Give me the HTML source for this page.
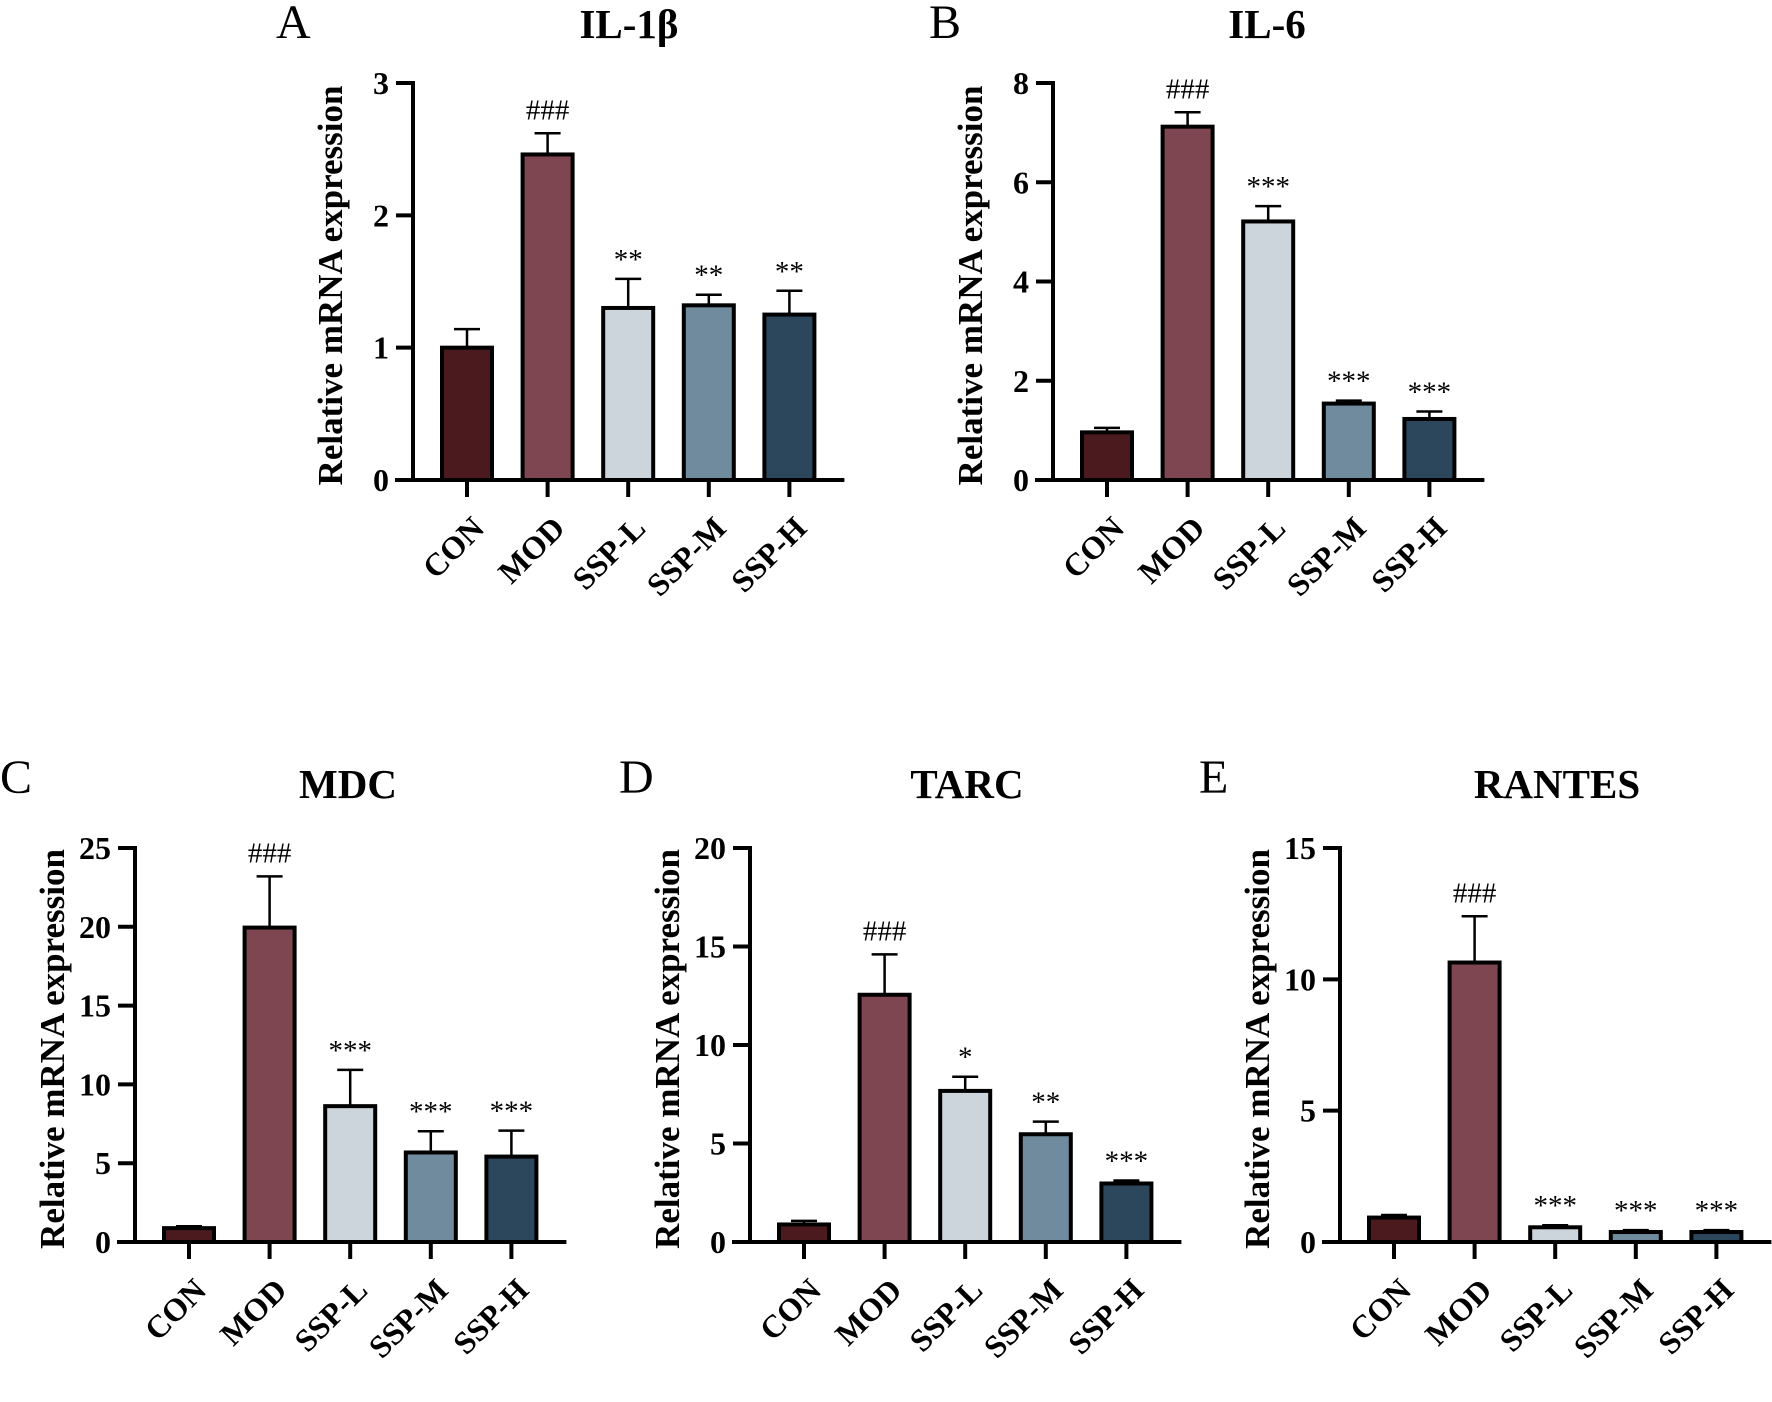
<!DOCTYPE html>
<html><head><meta charset="utf-8"><style>
html,body{margin:0;padding:0;background:#fff;}
svg{display:block;}
text{font-family:"Liberation Serif","DejaVu Serif",serif;fill:#000;}
</style></head><body>
<svg id="fig" width="1772" height="1402" viewBox="0 0 1772 1402" xmlns="http://www.w3.org/2000/svg"></svg>
<script>
const categories = ["CON","MOD","SSP-L","SSP-M","SSP-H"];
const barColors = ["#4b1a1f","#7e4650","#cdd5dc","#6f8b9d","#2c465c"];

const il1bValues = [1.0, 2.46, 1.30, 1.32, 1.25];
const il1bErrors = [0.14, 0.16, 0.22, 0.08, 0.18];
const il1bMarks = ["", "###", "**", "**", "**"];
const il1bTicks = [0,1,2,3];

const il6Values = [0.96, 7.12, 5.21, 1.54, 1.23];
const il6Errors = [0.09, 0.29, 0.31, 0.06, 0.15];
const il6Marks = ["", "###", "***", "***", "***"];
const il6Ticks = [0,2,4,6,8];

const mdcValues = [0.88, 19.95, 8.62, 5.68, 5.42];
const mdcErrors = [0.12, 3.25, 2.3, 1.35, 1.65];
const mdcMarks = ["", "###", "***", "***", "***"];
const mdcTicks = [0,5,10,15,20,25];

const tarcValues = [0.89, 12.55, 7.67, 5.47, 2.97];
const tarcErrors = [0.18, 2.05, 0.72, 0.64, 0.15];
const tarcMarks = ["", "###", "*", "**", "***"];
const tarcTicks = [0,5,10,15,20];

const rantesValues = [0.93, 10.64, 0.56, 0.38, 0.38];
const rantesErrors = [0.1, 1.76, 0.08, 0.07, 0.07];
const rantesMarks = ["", "###", "***", "***", "***"];
const rantesTicks = [0,5,10,15];

const panels = [
  {id:"a", letter:"A", title:"IL-1β", vals:il1bValues, errs:il1bErrors, marks:il1bMarks, ticks:il1bTicks, ax:413, top:83, zero:480, lx:276, ly:38, tx:629, ty:38},
  {id:"b", letter:"B", title:"IL-6", vals:il6Values, errs:il6Errors, marks:il6Marks, ticks:il6Ticks, ax:1053, top:83, zero:480, lx:929, ly:38, tx:1267, ty:38},
  {id:"c", letter:"C", title:"MDC", vals:mdcValues, errs:mdcErrors, marks:mdcMarks, ticks:mdcTicks, ax:135, top:848, zero:1242, lx:0, ly:793, tx:348, ty:798},
  {id:"d", letter:"D", title:"TARC", vals:tarcValues, errs:tarcErrors, marks:tarcMarks, ticks:tarcTicks, ax:750, top:848, zero:1242, lx:619, ly:793, tx:967, ty:798},
  {id:"e", letter:"E", title:"RANTES", vals:rantesValues, errs:rantesErrors, marks:rantesMarks, ticks:rantesTicks, ax:1340, top:848, zero:1242, lx:1199, ly:793, tx:1557, ty:798}
];

const NS = "http://www.w3.org/2000/svg";
const svg = document.getElementById("fig");
function mk(tag, attrs, parent){
  const e = document.createElementNS(NS, tag);
  for (const k in attrs) e.setAttribute(k, attrs[k]);
  parent.appendChild(e);
  return e;
}

panels.forEach(p => {
  const g = mk("g", {}, svg);
  
  
  const maxV = p.ticks[p.ticks.length-1];
  const yScale = v => p.zero - (v / maxV) * (p.zero - p.top);
  const xScale = i => p.ax + 54 + i * 80.6;

  const L = mk("text", {x:p.lx, y:p.ly, "font-size":48}, g);
  L.textContent = p.letter;
  
  

  const T = mk("text", {x:p.tx, y:p.ty, "font-size":41, "font-weight":"bold", "text-anchor":"middle"}, g);
  T.textContent = p.title;
  
  

  const cy = (p.top + p.zero) / 2;
  const yt = mk("text", {x:0, y:0, "font-size":35, "font-weight":"bold", "text-anchor":"middle", transform:`translate(${p.ax-71},${cy+4}) rotate(-90)`}, g);
  yt.textContent = "Relative mRNA expression";
  
  

  p.vals.forEach((v, i) => {
    const cx = xScale(i);
    const yv = yScale(v);
    const ye = yScale(v + p.errs[i]);
    const eb = mk("line", {x1:cx, x2:cx, y1:yv, y2:ye, stroke:"#000", "stroke-width":2.5}, g);
    
    
    const ec = mk("line", {x1:cx-13, x2:cx+13, y1:ye, y2:ye, stroke:"#000", "stroke-width":2.5}, g);
    
    
    const r = mk("rect", {x:cx-25, y:yv, width:50, height:Math.max(p.zero - yv, 0), fill:barColors[i], stroke:"#000", "stroke-width":4}, g);
    
    
    if (p.marks[i]) {
      const isHash = p.marks[i][0] === "#";
      const m = mk("text", {x:cx, y: ye - (isHash ? 14 : 10), "font-size":29, "text-anchor":"middle"}, g);
      m.textContent = p.marks[i];
      
      
    }
    const tk = mk("line", {x1:cx, x2:cx, y1:p.zero, y2:p.zero+17, stroke:"#000", "stroke-width":4}, g);
    
    
    const lb = mk("text", {x:0, y:0, "font-size":32, "font-weight":"bold", "text-anchor":"end", transform:`translate(${cx+19},${p.zero+50}) rotate(-45)`}, g);
    lb.textContent = categories[i];
    
    
  });

  const ya = mk("line", {x1:p.ax, x2:p.ax, y1:p.top-2, y2:p.zero+2, stroke:"#000", "stroke-width":4}, g);
  
  
  const xa = mk("line", {x1:p.ax-18, x2:xScale(categories.length-1)+55, y1:p.zero, y2:p.zero, stroke:"#000", "stroke-width":4}, g);
  
  
  p.ticks.forEach(t => {
    const y = yScale(t);
    const tl = mk("line", {x1:p.ax-17, x2:p.ax, y1:y, y2:y, stroke:"#000", "stroke-width":4}, g);
    
    
    const tt = mk("text", {x:p.ax-24, y:y+11, "font-size":32, "font-weight":"bold", "text-anchor":"end"}, g);
    tt.textContent = t;
    
    
  });
});
</script>
</body></html>
